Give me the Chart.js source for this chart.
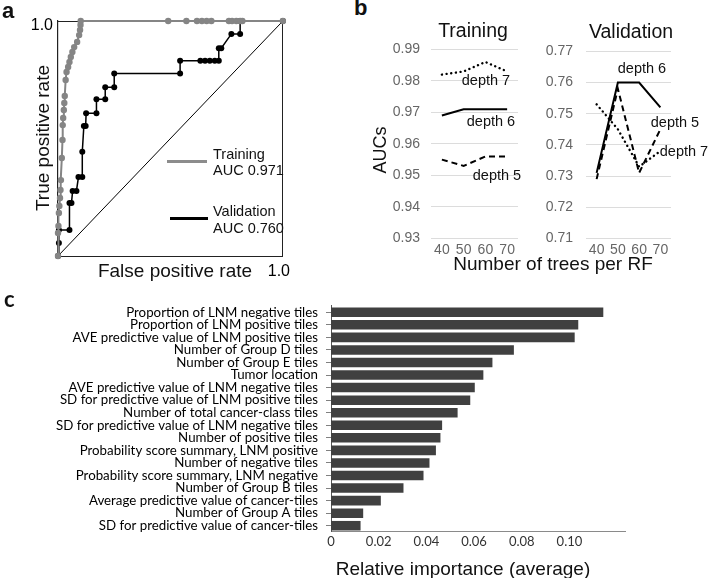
<!DOCTYPE html>
<html>
<head>
<meta charset="utf-8">
<script src="https://cdn.jsdelivr.net/npm/chart.js"></script>
<style>
  body { margin: 0; background: #fff; }
  #fig { position: relative; width: 708px; height: 578px; overflow: hidden; font-family: "Liberation Sans", Arial, sans-serif; color: #111; }
  #fig canvas { position: absolute; }
  .txt { position: absolute; white-space: nowrap; line-height: 1; }
  .mid { transform: translate(-50%, -50%); }
  .rot { transform: translate(-50%, -50%) rotate(-90deg); }
  .panel { font-weight: bold; font-size: 22px; }
  .note { font-size: 14.5px; }
  .legline { position: absolute; height: 2.5px; }
</style>
</head>
<body>
<div id="fig">
  <canvas id="rocChart" width="300" height="290" style="left:0;top:0"></canvas>
  <canvas id="trainChart" width="140" height="230" style="left:385px;top:30px"></canvas>
  <canvas id="valChart" width="140" height="230" style="left:540px;top:30px"></canvas>
  <canvas id="impChart" width="708" height="288" style="left:0;top:290px"></canvas>

  <!-- panel a -->
  <div class="txt panel" style="left:2px;top:0px">a</div>
  <div class="txt rot" style="left:42px;top:138px;font-size:19px">True positive rate</div>
  <div class="txt mid" style="left:175px;top:270px;font-size:19px">False positive rate</div>
  <div class="legline" style="left:167px;top:160px;width:40px;background:#8c8c8c"></div>
  <div class="txt note" style="left:213px;top:146px;line-height:16px">Training<br>AUC 0.971</div>
  <div class="legline" style="left:170px;top:217px;width:38px;background:#000"></div>
  <div class="txt note" style="left:213px;top:203px;line-height:17px">Validation<br>AUC 0.760</div>

  <!-- panel b -->
  <div class="txt panel" style="left:354px;top:-3px">b</div>
  <div class="txt mid" style="left:473px;top:31px;font-size:19.5px">Training</div>
  <div class="txt mid" style="left:631px;top:32px;font-size:19.5px">Validation</div>
  <div class="txt rot" style="left:380px;top:150px;font-size:18px">AUCs</div>
  <div class="txt mid" style="left:553px;top:263px;font-size:19px">Number of trees per RF</div>
  <div class="txt note mid" style="left:486px;top:80px">depth 7</div>
  <div class="txt note mid" style="left:491px;top:121px">depth 6</div>
  <div class="txt note mid" style="left:497px;top:175px">depth 5</div>
  <div class="txt note mid" style="left:642px;top:68px">depth 6</div>
  <div class="txt note mid" style="left:675px;top:122px">depth 5</div>
  <div class="txt note mid" style="left:684px;top:151px">depth 7</div>

  <!-- panel c -->
  <div class="txt panel" style="left:4px;top:288px;font-family:Lato,sans-serif">c</div>
  <div class="txt mid" style="left:463px;top:568px;font-size:19px">Relative importance (average)</div>
</div>

<script>
// ROC curves (panel a)
const rocTrainFpr = [0, 0, 0.002, 0.004, 0.006, 0.009, 0.011, 0.013, 0.017, 0.02, 0.021, 0.023, 0.026, 0.028, 0.03, 0.034, 0.038, 0.045, 0.051, 0.057, 0.064, 0.072, 0.085, 0.094, 0.098, 0.1, 0.101, 0.49, 0.571, 0.618, 0.64, 0.661, 0.682, 0.76, 0.774, 0.793, 0.81, 0.82, 1.0];
const rocTrainTpr = [0, 0.098, 0.128, 0.183, 0.213, 0.247, 0.281, 0.323, 0.417, 0.494, 0.557, 0.587, 0.621, 0.651, 0.681, 0.749, 0.783, 0.804, 0.826, 0.847, 0.868, 0.889, 0.911, 0.94, 0.962, 0.983, 1, 1, 1, 1, 1, 1, 1, 1, 1, 1, 1, 1, 1];
const rocValFpr = [0, 0.004, 0.004, 0.051, 0.051, 0.06, 0.065, 0.082, 0.091, 0.108, 0.108, 0.115, 0.123, 0.125, 0.171, 0.171, 0.21, 0.21, 0.25, 0.25, 0.543, 0.543, 0.633, 0.654, 0.675, 0.697, 0.715, 0.715, 0.726, 0.771, 0.81, 0.81, 1.0];
const rocValTpr = [0, 0.055, 0.111, 0.111, 0.226, 0.226, 0.277, 0.277, 0.336, 0.336, 0.444, 0.553, 0.553, 0.607, 0.607, 0.667, 0.667, 0.718, 0.718, 0.777, 0.777, 0.831, 0.831, 0.831, 0.831, 0.831, 0.831, 0.884, 0.884, 0.945, 0.945, 1, 1];

// AUC vs number of trees (panel b)
const treeCounts = ['40', '50', '60', '70'];
const trainDepth5 = [0.955, 0.953, 0.956, 0.956];
const trainDepth6 = [0.969, 0.971, 0.971, 0.971];
const trainDepth7 = [0.982, 0.983, 0.986, 0.983];
const valDepth5 = [0.729, 0.758, 0.731, 0.745];
const valDepth6 = [0.731, 0.760, 0.760, 0.752];
const valDepth7 = [0.753, 0.745, 0.733, 0.738];

// feature importance (panel c)
const featureNames = [
    'Proportion of LNM negative tiles',
    'Proportion of LNM positive tiles',
    'AVE predictive value of LNM positive tiles',
    'Number of Group D tiles',
    'Number of Group E tiles',
    'Tumor location',
    'AVE predictive value of LNM negative tiles',
    'SD for predictive value of LNM positive tiles',
    'Number of total cancer-class tiles',
    'SD for predictive value of LNM negative tiles',
    'Number of positive tiles',
    'Probability score summary, LNM positive',
    'Number of negative tiles',
    'Probability score summary, LNM negative',
    'Number of Group B tiles',
    'Average predictive value of cancer-tiles',
    'Number of Group A tiles',
    'SD for predictive value of cancer-tiles'
];
const importance = [0.1142, 0.1037, 0.1022, 0.0767, 0.0677, 0.0639, 0.0603, 0.0584, 0.0531, 0.0466, 0.0459, 0.0440, 0.0413, 0.0388, 0.0304, 0.0209, 0.0135, 0.0124];
const importanceTicks = [0, 0.02, 0.04, 0.06, 0.08, 0.10];

Chart.defaults.font.family = '"Liberation Sans", Arial, sans-serif';
Chart.defaults.animation = false;
Chart.defaults.responsive = false;
Chart.defaults.plugins.legend.display = false;
Chart.defaults.plugins.tooltip.enabled = false;

const toPoints = (xs, ys) => xs.map((x, i) => ({ x: x, y: ys[i] }));
const noGrid = { display: false, drawTicks: false };

new Chart(document.getElementById('rocChart'), {
    type: 'scatter',
    data: {
        datasets: [
            { data: toPoints(rocTrainFpr, rocTrainTpr), showLine: true, clip: false,
              borderColor: '#858585', backgroundColor: '#858585', borderWidth: 2, pointRadius: 3.2, pointBorderWidth: 0 },
            { data: toPoints(rocValFpr, rocValTpr), showLine: true, clip: false,
              borderColor: '#000', backgroundColor: '#000', borderWidth: 1.5, pointRadius: 3, pointBorderWidth: 0 },
            { data: toPoints([0, 1], [0, 1]), showLine: true, borderColor: '#000', borderWidth: 1, pointRadius: 0 }
        ]
    },
    options: {
        layout: { padding: { top: 21, right: 7, left: 0, bottom: 0 } },
        scales: {
            x: { type: 'linear', position: 'bottom', min: 0, max: 1,
                 grid: noGrid, border: { color: '#222', width: 1 },
                 ticks: { stepSize: 1, color: '#000', font: { size: 16 }, padding: 6, maxRotation: 0, labelOffset: -4,
                          callback: v => v === 1 ? '1.0' : '' },
                 afterFit: s => { s.height = 34; } },
            y: { type: 'linear', position: 'left', min: 0, max: 1,
                 grid: noGrid, border: { color: '#222', width: 1.2 },
                 ticks: { stepSize: 1, color: '#000', font: { size: 16 }, padding: 5, labelOffset: 5,
                          callback: v => v === 1 ? '1.0' : '' },
                 afterFit: s => { s.width = 58; } },
            x2: { type: 'linear', position: 'top', min: 0, max: 1,
                  grid: noGrid, border: { color: '#222', width: 1 }, ticks: { display: false },
                  afterFit: s => { s.height = 0; } },
            y2: { type: 'linear', position: 'right', min: 0, max: 1,
                  grid: noGrid, border: { color: '#222', width: 1 }, ticks: { display: false },
                  afterFit: s => { s.width = 0; } }
        }
    }
});

function depthLines(d5, d6, d7) {
    return [
        { data: d7, borderColor: '#000', borderWidth: 2.4, borderDash: [0.1, 4.6], borderCapStyle: 'round', pointRadius: 0 },
        { data: d6, borderColor: '#000', borderWidth: 2, pointRadius: 0 },
        { data: d5, borderColor: '#000', borderWidth: 2, borderDash: [6, 4], pointRadius: 0 }
    ];
}

function aucChart(id, datasets, yMin, yMax, rightPad, tickPad) {
    return new Chart(document.getElementById(id), {
        type: 'line',
        data: { labels: treeCounts, datasets: datasets },
        options: {
            layout: { padding: { top: 15.7, right: rightPad, left: 0, bottom: 0 } },
            elements: { line: { tension: 0 } },
            scales: {
                x: { offset: true, grid: noGrid, border: { display: false },
                     ticks: { color: '#666', font: { size: 14 }, padding: 3, maxRotation: 0 },
                     afterFit: s => { s.height = 21.7; } },
                y: { min: yMin, max: yMax, border: { display: false },
                     grid: { color: '#dcdcdc', drawTicks: false },
                     ticks: { stepSize: 0.01, color: '#666', font: { size: 14 }, padding: tickPad,
                              callback: v => v.toFixed(2) },
                     afterFit: s => { s.width = 46; } }
            }
        }
    });
}

aucChart('trainChart', depthLines(trainDepth5, trainDepth6, trainDepth7), 0.93, 0.99, 7, 11);
aucChart('valChart', depthLines(valDepth5, valDepth6, valDepth7), 0.71, 0.77, 9, 13);

new Chart(document.getElementById('impChart'), {
    type: 'bar',
    data: {
        labels: featureNames,
        datasets: [{ data: importance, backgroundColor: '#404040', barPercentage: 0.76, categoryPercentage: 1 }]
    },
    options: {
        indexAxis: 'y',
        layout: { padding: { top: 12, right: 83, left: 0, bottom: 0 } },
        scales: {
            x: { min: 0, max: 0.1233, grid: noGrid, border: { color: '#8a8a8a', width: 1 },
                 afterBuildTicks: s => { s.ticks = importanceTicks.map(v => ({ value: v })); },
                 ticks: { color: '#333', font: { family: 'Lato, sans-serif', size: 13 }, padding: 2, maxRotation: 0,
                          callback: v => v === 0 ? '0' : v.toFixed(2) },
                 afterFit: s => { s.height = 46; } },
            y: { border: { color: '#555', width: 1 },
                 grid: { drawOnChartArea: false, drawTicks: true, tickLength: 5, color: '#808080', offset: false },
                 ticks: { color: '#000', font: { family: 'Lato, sans-serif', size: 13.3 }, padding: 8, autoSkip: false },
                 afterFit: s => { s.width = 331; } }
        }
    }
});
</script>
</body>
</html>
